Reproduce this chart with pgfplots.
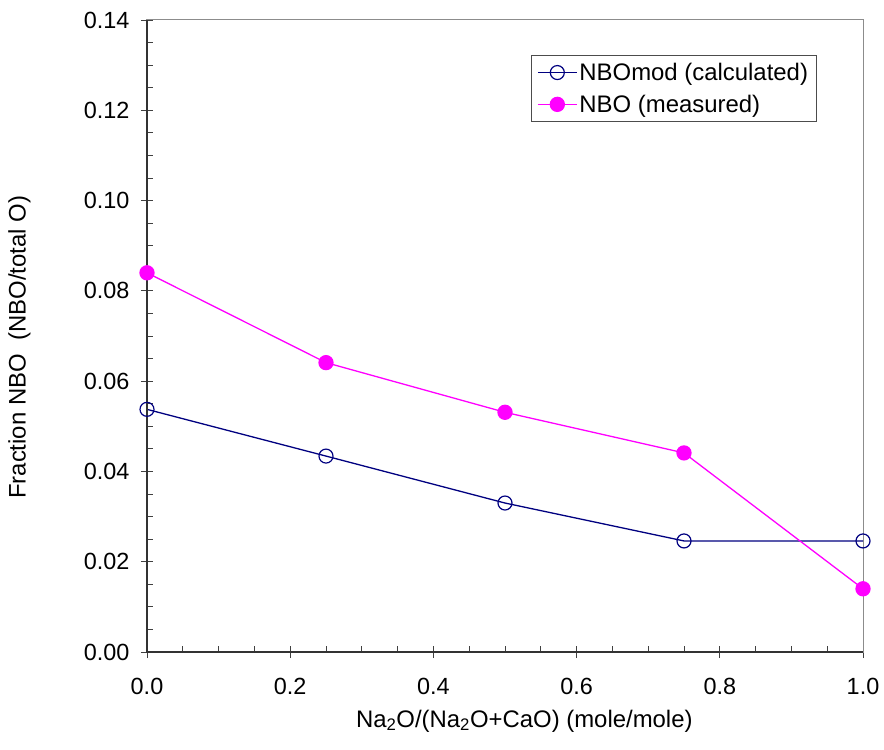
\documentclass[border=0pt]{standalone}
\usepackage{fontspec}
\setmainfont{Liberation Sans}
\usepackage{pgfplots}
\pgfplotsset{compat=1.18}
\definecolor{navyb}{RGB}{0,0,128}
\definecolor{mag}{RGB}{255,0,255}
\begin{document}
\begin{tikzpicture}
\begin{axis}[
  scale only axis, width=716bp, height=632bp,
  xmin=0, xmax=1, ymin=0, ymax=0.14,
  clip=false,
  xtick={0,0.2,0.4,0.6,0.8,1},
  ytick={0,0.02,0.04,0.06,0.08,0.1,0.12,0.14},
  minor x tick num=3, minor y tick num=3,
  xtick pos=bottom, ytick pos=left,
  tick align=inside,
  major tick length=12bp, minor tick length=6bp,
  major x tick style={yshift=-6bp},
  major y tick style={xshift=-6bp},
  tick style={black!75, line width=0.9bp},
  axis line style={black!45, line width=1bp},
  /pgf/number format/assume math mode=true,
  xticklabel={\pgfmathprintnumber[fixed,fixed zerofill,precision=1]{\tick}},
  yticklabel={\pgfmathprintnumber[fixed,fixed zerofill,precision=2]{\tick}},
  tick label style={font=\fontsize{23.5}{28}\selectfont},
  xticklabel style={anchor=base, yshift=-42bp},
  yticklabel style={anchor=east, xshift=-14bp},
  xlabel={Na\textsubscript{2}O/(Na\textsubscript{2}O+CaO) (mole/mole)},
  ylabel={Fraction NBO\ \ (NBO/total O)},
  label style={font=\fontsize{24}{28}\selectfont},
  xlabel style={at={(axis description cs:0.527,-0.1187)}, anchor=base},
  ylabel style={at={(axis description cs:-0.178,0.482)}, anchor=center},
  legend style={at={(rel axis cs:0.536,0.945)}, anchor=north west,
    draw=black!70, line width=0.8bp, font=\fontsize{24}{28}\selectfont,
    inner sep=6bp, row sep=9bp},
  legend cell align=left,
  legend image code/.code={\draw[mark repeat=2,mark phase=2] plot coordinates {(0bp,0bp) (19.5bp,0bp) (39bp,0bp)};},
]
\coordinate (SW) at (rel axis cs:0,0);
\coordinate (NE) at (rel axis cs:1,1);
\addplot[navyb, line width=1.3bp, mark=o, mark size=7bp, mark options={line width=1.2bp}]
  coordinates {(0,0.05375) (0.25,0.0434) (0.5,0.0330) (0.75,0.0246) (1.0,0.0246)};
\addlegendentry{NBOmod (calculated)}
\addplot[mag, line width=1.3bp, mark=*, mark size=7bp, mark options={fill=mag, draw=mag}]
  coordinates {(0,0.0840) (0.25,0.0641) (0.5,0.0531) (0.75,0.0441) (1.0,0.0140)};
\addlegendentry{NBO (measured)}
\draw[black!80, line width=1.1bp] (rel axis cs:0,1) -- (rel axis cs:0,0) -- (rel axis cs:1,0);
\end{axis}
\pgfresetboundingbox
\path (SW) +(-147bp,-98bp) (NE) +(21bp,20bp);
\end{tikzpicture}
\end{document}
